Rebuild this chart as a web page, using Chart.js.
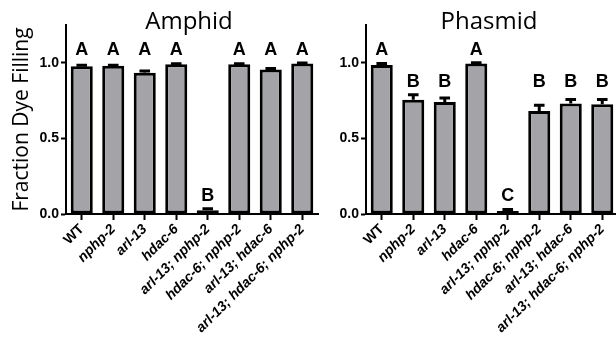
<!DOCTYPE html>
<html>
<head>
<meta charset="utf-8">
<script src="https://cdn.jsdelivr.net/npm/chart.js@4.4.1/dist/chart.umd.min.js"></script>
<style>
  html, body { margin: 0; padding: 0; background: #fff; overflow: hidden; }
  #wrap { position: relative; width: 616px; height: 345px; overflow: hidden; }
  .panel { position: absolute; top: 0; width: 320px; height: 345px; }
</style>
</head>
<body>
<div id="wrap">
  <div class="panel" style="left:0"><canvas id="amphid" width="320" height="345"></canvas></div>
  <div class="panel" style="left:300px"><canvas id="phasmid" width="320" height="345"></canvas></div>
</div>
<script>
  var strains = ["WT", "nphp-2", "arl-13", "hdac-6", "arl-13; nphp-2",
                 "hdac-6; nphp-2", "arl-13; hdac-6", "arl-13; hdac-6; nphp-2"];

  var amphidMean = [0.978, 0.98, 0.935, 0.99, 0.025, 0.99, 0.955, 0.995];
  var amphidSem = [0.005, 0.004, 0.01, 0.004, 0.01, 0.004, 0.007, 0.003];
  var amphidLetters = ["A", "A", "A", "A", "B", "A", "A", "A"];

  var phasmidMean = [0.985, 0.755, 0.74, 0.995, 0.02, 0.682, 0.73, 0.726];
  var phasmidSem = [0.01, 0.033, 0.028, 0.005, 0.01, 0.038, 0.027, 0.032];
  var phasmidLetters = ["A", "B", "B", "A", "C", "B", "B", "B"];

  var yTicks = [0, 0.5, 1.0];

  // error bars (upper half only) + significance letters + panel title
  var extras = {
    id: 'extras',
    afterDatasetsDraw: function(chart, args, opts) {
      var ctx = chart.ctx;
      var y = chart.scales.y;
      var data = chart.data.datasets[0].data;
      var bars = chart.getDatasetMeta(0).data;
      ctx.save();
      ctx.strokeStyle = '#000';
      ctx.lineWidth = 3;
      bars.forEach(function(bar, i) {
        var top = y.getPixelForValue(data[i] + opts.sem[i]);
        var half = bar.width * 0.24;
        ctx.beginPath();
        ctx.moveTo(bar.x, bar.y);
        ctx.lineTo(bar.x, top);
        ctx.moveTo(bar.x - half, top);
        ctx.lineTo(bar.x + half, top);
        ctx.stroke();
      });

      // letters sit at a common height for each group
      var groupTop = {};
      opts.letters.forEach(function(l, i) {
        var v = data[i] + opts.sem[i];
        if (groupTop[l] === undefined || v > groupTop[l]) groupTop[l] = v;
      });
      ctx.fillStyle = '#000';
      ctx.font = 'bold 18px "Liberation Sans", Arial, sans-serif';
      ctx.textAlign = 'center';
      ctx.textBaseline = 'alphabetic';
      bars.forEach(function(bar, i) {
        var l = opts.letters[i];
        ctx.fillText(l, bar.x, y.getPixelForValue(groupTop[l]) - 8);
      });

      var area = chart.chartArea;
      ctx.font = '24px "Open Sans", sans-serif';
      ctx.textBaseline = 'middle';
      ctx.fillText(opts.title, (area.left + area.right) / 2 - 3, 22);
      ctx.restore();
    }
  };

  function makePanel(id, title, means, sem, letters, showYTitle) {
    var ctx = document.getElementById(id).getContext('2d');
    return new Chart(ctx, {
      type: 'bar',
      data: {
        labels: strains,
        datasets: [{
          data: means,
          backgroundColor: '#a3a3a8',
          borderColor: '#000',
          borderWidth: 3,
          borderSkipped: false,
          barPercentage: 0.7,
          categoryPercentage: 1.0
        }]
      },
      options: {
        responsive: false,
        animation: false,
        devicePixelRatio: 1,
        layout: { padding: { left: 0, right: 2, top: 25, bottom: 0 } },
        plugins: {
          legend: { display: false },
          tooltip: { enabled: false },
          extras: { title: title, sem: sem, letters: letters }
        },
        scales: {
          x: {
            offset: true,
            grid: { offset: false, drawOnChartArea: false, tickLength: 6, tickWidth: 2, tickColor: '#000' },
            border: { color: '#000', width: 2 },
            ticks: {
              color: '#000',
              minRotation: 45,
              maxRotation: 45,
              autoSkip: false,
              padding: 1,
              font: function(c) {
                return { family: '"Liberation Sans", Arial, sans-serif', size: 14, weight: 'bold',
                         style: c.index === 0 ? 'normal' : 'italic' };
              }
            },
            afterFit: function(scale) { scale.height = 131; }
          },
          y: {
            min: 0,
            max: 1.25,
            grid: { drawOnChartArea: false, tickLength: 5, tickWidth: 2, tickColor: '#000' },
            border: { color: '#000', width: 2 },
            ticks: {
              color: '#000',
              padding: 2,
              font: { family: '"Liberation Sans", Arial, sans-serif', size: 14, weight: 'bold' },
              callback: function(v) { return Number(v).toFixed(1); }
            },
            afterBuildTicks: function(scale) {
              scale.ticks = yTicks.map(function(v) { return { value: v }; });
            },
            title: {
              display: showYTitle,
              text: 'Fraction Dye Filling',
              color: '#000',
              font: { family: '"Open Sans", sans-serif', size: 21 },
              padding: { top: 9, bottom: 0 }
            },
            afterFit: function(scale) { scale.width = 66; }
          }
        }
      },
      plugins: [extras]
    });
  }

  makePanel('amphid', 'Amphid', amphidMean, amphidSem, amphidLetters, true);
  makePanel('phasmid', 'Phasmid', phasmidMean, phasmidSem, phasmidLetters, false);
</script>
</body>
</html>
